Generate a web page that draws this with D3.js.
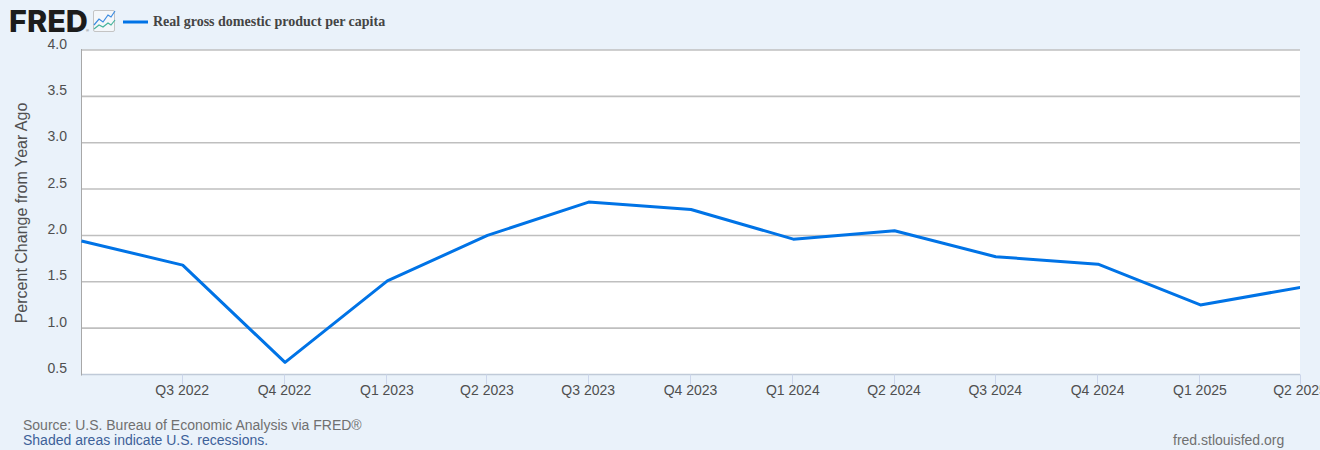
<!DOCTYPE html>
<html><head><meta charset="utf-8">
<style>html,body{margin:0;padding:0;background:#eaf2fa;overflow:hidden}svg{display:block}</style>
<script src="https://cdn.jsdelivr.net/npm/d3@7"></script></head>
<body><svg id="c" width="1320" height="450"></svg>
<script>
const dates = ["2022-04-01","2022-07-01","2022-10-01","2023-01-01","2023-04-01","2023-07-01","2023-10-01","2024-01-01","2024-04-01","2024-07-01","2024-10-01","2025-01-01","2025-04-01"];
const values = [1.94,1.68,0.63,1.51,2.00,2.36,2.28,1.96,2.05,1.77,1.69,1.25,1.44];
const tickLabels = ["Q3 2022","Q4 2022","Q1 2023","Q2 2023","Q3 2023","Q4 2023","Q1 2024","Q2 2024","Q3 2024","Q4 2024","Q1 2025","Q2 2025"];
const yTicks = [0.5,1.0,1.5,2.0,2.5,3.0,3.5,4.0];
const seriesName = "Real gross domestic product per capita";
const yTitle = "Percent Change from Year Ago";

const parse = d3.utcParse("%Y-%m-%d");
const L = 81, R = 1300, T = 50, B = 374.5;
const x = d3.scaleUtc().domain([parse(dates[0]), parse(dates[dates.length-1])]).range([L-0.5, R-0.5]);
const y = d3.scaleLinear().domain([0.5,4]).range([B,T]);
const svg = d3.select("#c");
const sans = "'Liberation Sans',Arial,sans-serif";

svg.append("clipPath").attr("id","plot").append("rect").attr("x",L).attr("y",T-2).attr("width",R-L).attr("height",B-T+4);
svg.append("rect").attr("width",1320).attr("height",450).attr("fill","#eaf2fa");
svg.append("rect").attr("x",L).attr("y",T).attr("width",R-L).attr("height",B-T).attr("fill","#fff");

// grid
svg.append("g").selectAll("line").data(yTicks).join("line")
  .attr("x1",L).attr("x2",R).attr("y1",d=>y(d)).attr("y2",d=>y(d))
  .attr("stroke",d=>d===0.5?"#c0cad8":"#bfbfbf").attr("stroke-width",d=>d===0.5?1.5:1.6);
svg.append("line").attr("x1",L+0.5).attr("x2",L+0.5).attr("y1",T-1).attr("y2",B+1).attr("stroke","#a8a8a8").attr("stroke-width",1);

// y labels
svg.append("g").selectAll("text").data(yTicks).join("text")
  .attr("x",67).attr("y",d=>y(d)-1.5).attr("text-anchor","end")
  .attr("font-family",sans).attr("font-size",14).attr("fill","#4f4f4f").text(d=>d3.format(".1f")(d));

// x ticks
const tickDates = dates.slice(1).map(parse);
svg.append("g").selectAll("line").data(tickDates).join("line")
  .attr("x1",d=>Math.round(x(d))+0.5).attr("x2",d=>Math.round(x(d))+0.5).attr("y1",B).attr("y2",B+10)
  .attr("stroke","#ccd6eb").attr("stroke-width",1);
svg.append("g").selectAll("text").data(tickLabels).join("text")
  .attr("x",(d,i)=>x(tickDates[i])+0.5).attr("y",395).attr("text-anchor","middle")
  .attr("font-family",sans).attr("font-size",14).attr("fill","#4f4f4f").text(d=>d);

// y title
svg.append("text").attr("transform","translate(27,213) rotate(-90)").attr("text-anchor","middle")
  .attr("font-family",sans).attr("font-size",16).attr("fill","#4f4f4f").text(yTitle);

// line
const line = d3.line().x(d=>x(d[0])+1).y(d=>y(d[1]));
svg.append("path").datum(dates.map((d,i)=>[parse(d),values[i]])).attr("d",line).attr("clip-path","url(#plot)")
  .attr("fill","none").attr("stroke","#0073e6").attr("stroke-width",3).attr("stroke-linejoin","round");

// logo
svg.append("text").attr("x",9).attr("y",32).attr("font-family","Inter,'Liberation Sans',sans-serif").attr("font-weight",800)
  .attr("font-size",30).attr("fill","#1c1c1c").attr("textLength",79).attr("lengthAdjust","spacingAndGlyphs").text("FRED");
svg.append("text").attr("x",86).attr("y",32).attr("font-family",sans).attr("font-size",4).attr("fill","#555").text("®");
svg.append("rect").attr("x",93.5).attr("y",10.5).attr("width",21).attr("height",21).attr("rx",1.5).attr("fill","#f4f7fa").attr("stroke","#c4c4c4");
svg.append("path").attr("d","M94 25 L99 19 L103 22 L108 15 L111 17 L115 11").attr("fill","none").attr("stroke","#3b8be0").attr("stroke-width",1.2);
svg.append("path").attr("d","M94 29 L99 25 L103 27 L108 23 L111 25 L115 20").attr("fill","none").attr("stroke","#45b39d").attr("stroke-width",1.2);

// legend
svg.append("line").attr("x1",123).attr("x2",148).attr("y1",22).attr("y2",22).attr("stroke","#0073e6").attr("stroke-width",3);
svg.append("text").attr("x",153).attr("y",26).attr("font-family","'Liberation Serif','Times New Roman',serif").attr("font-weight",700)
  .attr("font-size",14).attr("fill","#444").text(seriesName);

// footer
svg.append("text").attr("x",23).attr("y",430).attr("font-family",sans).attr("font-size",14).attr("fill","#707070").text("Source: U.S. Bureau of Economic Analysis via FRED®");
svg.append("text").attr("x",23).attr("y",445).attr("font-family",sans).attr("font-size",14).attr("fill","#3d6199").text("Shaded areas indicate U.S. recessions.");
svg.append("text").attr("x",1173).attr("y",445).attr("font-family",sans).attr("font-size",14).attr("fill","#707070").text("fred.stlouisfed.org");
</script></body></html>
